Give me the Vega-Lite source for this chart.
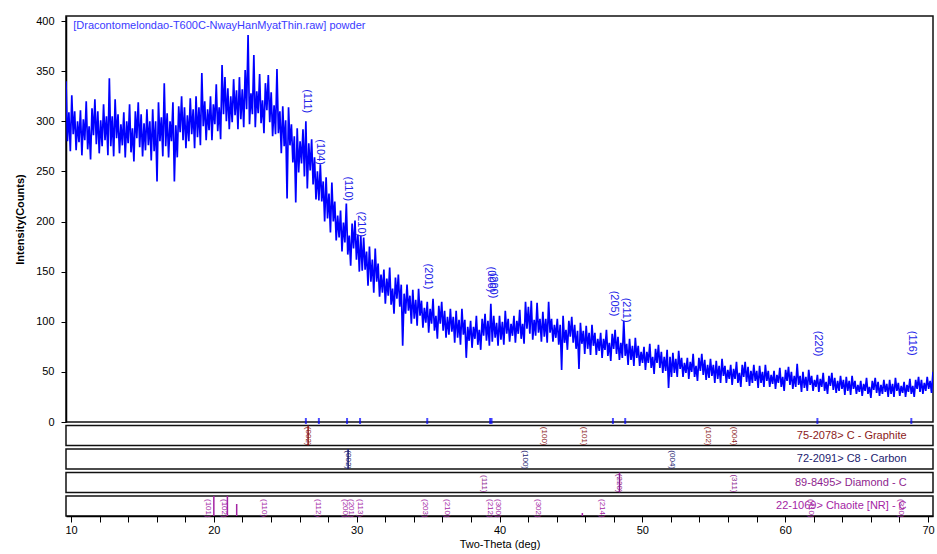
{
"$schema":"https://vega.github.io/schema/vega-lite/v6.json",
"padding":{"left":13,"top":14,"right":5,"bottom":0},
"spacing":3.5,
"bounds":"flush",
"config":{"font":"Liberation Sans","view":{"stroke":"#111","strokeWidth":1.5},
"axis":{"labelFont":"Liberation Sans","titleFont":"Liberation Sans","labelColor":"#000","titleColor":"#000","domainColor":"#000","tickColor":"#000","grid":false}},
"datasets":{
"xrd":[
{"t":10.0,"i":340},{"t":10.1,"i":280},{"t":10.2,"i":309},{"t":10.3,"i":270},{"t":10.4,"i":326},{"t":10.5,"i":287},{"t":10.6,"i":310},{"t":10.7,"i":271},{"t":10.8,"i":300},{"t":10.9,"i":279},
{"t":11.0,"i":311},{"t":11.1,"i":266},{"t":11.2,"i":302},{"t":11.3,"i":281},{"t":11.4,"i":320},{"t":11.5,"i":272},{"t":11.6,"i":295},{"t":11.7,"i":262},{"t":11.8,"i":313},{"t":11.9,"i":286},
{"t":12.0,"i":322},{"t":12.1,"i":277},{"t":12.2,"i":310},{"t":12.3,"i":268},{"t":12.4,"i":301},{"t":12.5,"i":275},{"t":12.6,"i":317},{"t":12.7,"i":281},{"t":12.8,"i":305},{"t":12.9,"i":266},
{"t":13.0,"i":343},{"t":13.1,"i":275},{"t":13.2,"i":305},{"t":13.3,"i":265},{"t":13.4,"i":322},{"t":13.5,"i":283},{"t":13.6,"i":307},{"t":13.7,"i":268},{"t":13.8,"i":297},{"t":13.9,"i":276},
{"t":14.0,"i":309},{"t":14.1,"i":264},{"t":14.2,"i":300},{"t":14.3,"i":278},{"t":14.4,"i":317},{"t":14.5,"i":269},{"t":14.6,"i":293},{"t":14.7,"i":260},{"t":14.8,"i":310},{"t":14.9,"i":283},
{"t":15.0,"i":319},{"t":15.1,"i":274},{"t":15.2,"i":307},{"t":15.3,"i":265},{"t":15.4,"i":298},{"t":15.5,"i":271},{"t":15.6,"i":312},{"t":15.7,"i":276},{"t":15.8,"i":300},{"t":15.9,"i":261},
{"t":16.0,"i":312},{"t":16.1,"i":270},{"t":16.2,"i":300},{"t":16.3,"i":240},{"t":16.4,"i":319},{"t":16.5,"i":280},{"t":16.6,"i":304},{"t":16.7,"i":265},{"t":16.8,"i":338},{"t":16.9,"i":275},
{"t":17.0,"i":308},{"t":17.1,"i":264},{"t":17.2,"i":300},{"t":17.3,"i":280},{"t":17.4,"i":319},{"t":17.5,"i":240},{"t":17.6,"i":296},{"t":17.7,"i":264},{"t":17.8,"i":315},{"t":17.9,"i":289},
{"t":18.0,"i":325},{"t":18.1,"i":281},{"t":18.2,"i":314},{"t":18.3,"i":273},{"t":18.4,"i":306},{"t":18.5,"i":280},{"t":18.6,"i":323},{"t":18.7,"i":287},{"t":18.8,"i":312},{"t":18.9,"i":273},
{"t":19.0,"i":325},{"t":19.1,"i":284},{"t":19.2,"i":314},{"t":19.3,"i":276},{"t":19.4,"i":348},{"t":19.5,"i":295},{"t":19.6,"i":320},{"t":19.7,"i":281},{"t":19.8,"i":312},{"t":19.9,"i":291},
{"t":20.0,"i":325},{"t":20.1,"i":281},{"t":20.2,"i":317},{"t":20.3,"i":297},{"t":20.4,"i":337},{"t":20.5,"i":290},{"t":20.6,"i":314},{"t":20.7,"i":282},{"t":20.8,"i":356},{"t":20.9,"i":307},
{"t":21.0,"i":344},{"t":21.1,"i":300},{"t":21.2,"i":333},{"t":21.3,"i":292},{"t":21.4,"i":325},{"t":21.5,"i":299},{"t":21.6,"i":342},{"t":21.7,"i":306},{"t":21.8,"i":331},{"t":21.9,"i":292},
{"t":22.0,"i":344},{"t":22.1,"i":302},{"t":22.2,"i":332},{"t":22.3,"i":294},{"t":22.4,"i":351},{"t":22.5,"i":312},{"t":22.6,"i":386},{"t":22.7,"i":297},{"t":22.8,"i":328},{"t":22.9,"i":307},
{"t":23.0,"i":366},{"t":23.1,"i":294},{"t":23.2,"i":330},{"t":23.3,"i":308},{"t":23.4,"i":347},{"t":23.5,"i":298},{"t":23.6,"i":321},{"t":23.7,"i":288},{"t":23.8,"i":338},{"t":23.9,"i":311},
{"t":24.0,"i":346},{"t":24.1,"i":299},{"t":24.2,"i":329},{"t":24.3,"i":285},{"t":24.4,"i":316},{"t":24.5,"i":287},{"t":24.6,"i":352},{"t":24.7,"i":288},{"t":24.8,"i":310},{"t":24.9,"i":268},
{"t":25.0,"i":315},{"t":25.1,"i":275},{"t":25.2,"i":301},{"t":25.3,"i":223},{"t":25.4,"i":314},{"t":25.5,"i":276},{"t":25.6,"i":297},{"t":25.7,"i":259},{"t":25.8,"i":285},{"t":25.9,"i":219},
{"t":26.0,"i":293},{"t":26.1,"i":249},{"t":26.2,"i":280},{"t":26.3,"i":258},{"t":26.4,"i":292},{"t":26.5,"i":245},{"t":26.6,"i":300},{"t":26.7,"i":233},{"t":26.8,"i":278},{"t":26.9,"i":251},
{"t":27.0,"i":282},{"t":27.1,"i":237},{"t":27.2,"i":264},{"t":27.3,"i":222},{"t":27.4,"i":250},{"t":27.5,"i":221},{"t":27.6,"i":257},{"t":27.7,"i":220},{"t":27.8,"i":240},{"t":27.9,"i":200},
{"t":28.0,"i":244},{"t":28.1,"i":203},{"t":28.2,"i":228},{"t":28.3,"i":189},{"t":28.4,"i":239},{"t":28.5,"i":200},{"t":28.6,"i":220},{"t":28.7,"i":181},{"t":28.8,"i":206},{"t":28.9,"i":184},
{"t":29.0,"i":211},{"t":29.1,"i":170},{"t":29.2,"i":199},{"t":29.3,"i":179},{"t":29.4,"i":218},{"t":29.5,"i":167},{"t":29.6,"i":186},{"t":29.7,"i":156},{"t":29.8,"i":198},{"t":29.9,"i":173},
{"t":30.0,"i":201},{"t":30.1,"i":162},{"t":30.2,"i":187},{"t":30.3,"i":150},{"t":30.4,"i":186},{"t":30.5,"i":151},{"t":30.6,"i":184},{"t":30.7,"i":152},{"t":30.8,"i":170},{"t":30.9,"i":136},
{"t":31.0,"i":175},{"t":31.1,"i":140},{"t":31.2,"i":162},{"t":31.3,"i":129},{"t":31.4,"i":173},{"t":31.5,"i":140},{"t":31.6,"i":158},{"t":31.7,"i":125},{"t":31.8,"i":147},{"t":31.9,"i":129},
{"t":32.0,"i":152},{"t":32.1,"i":118},{"t":32.2,"i":143},{"t":32.3,"i":126},{"t":32.4,"i":154},{"t":32.5,"i":117},{"t":32.6,"i":133},{"t":32.7,"i":108},{"t":32.8,"i":144},{"t":32.9,"i":123},
{"t":33.0,"i":147},{"t":33.1,"i":115},{"t":33.2,"i":137},{"t":33.3,"i":76},{"t":33.4,"i":128},{"t":33.5,"i":108},{"t":33.6,"i":137},{"t":33.7,"i":111},{"t":33.8,"i":126},{"t":33.9,"i":98},
{"t":34.0,"i":132},{"t":34.1,"i":103},{"t":34.2,"i":122},{"t":34.3,"i":96},{"t":34.4,"i":133},{"t":34.5,"i":106},{"t":34.6,"i":121},{"t":34.7,"i":94},{"t":34.8,"i":114},{"t":34.9,"i":99},
{"t":35.0,"i":120},{"t":35.1,"i":89},{"t":35.2,"i":113},{"t":35.3,"i":98},{"t":35.4,"i":123},{"t":35.5,"i":91},{"t":35.6,"i":106},{"t":35.7,"i":83},{"t":35.8,"i":116},{"t":35.9,"i":98},
{"t":36.0,"i":120},{"t":36.1,"i":91},{"t":36.2,"i":111},{"t":36.3,"i":84},{"t":36.4,"i":105},{"t":36.5,"i":87},{"t":36.6,"i":113},{"t":36.7,"i":90},{"t":36.8,"i":105},{"t":36.9,"i":79},
{"t":37.0,"i":111},{"t":37.1,"i":84},{"t":37.2,"i":102},{"t":37.3,"i":77},{"t":37.4,"i":113},{"t":37.5,"i":87},{"t":37.6,"i":102},{"t":37.7,"i":64},{"t":37.8,"i":95},{"t":37.9,"i":81},
{"t":38.0,"i":101},{"t":38.1,"i":74},{"t":38.2,"i":95},{"t":38.3,"i":83},{"t":38.4,"i":106},{"t":38.5,"i":77},{"t":38.6,"i":92},{"t":38.7,"i":72},{"t":38.8,"i":103},{"t":38.9,"i":86},
{"t":39.0,"i":108},{"t":39.1,"i":81},{"t":39.2,"i":101},{"t":39.3,"i":76},{"t":39.4,"i":118},{"t":39.5,"i":80},{"t":39.6,"i":106},{"t":39.7,"i":84},{"t":39.8,"i":99},{"t":39.9,"i":76},
{"t":40.0,"i":106},{"t":40.1,"i":82},{"t":40.2,"i":100},{"t":40.3,"i":77},{"t":40.4,"i":111},{"t":40.5,"i":88},{"t":40.6,"i":103},{"t":40.7,"i":80},{"t":40.8,"i":98},{"t":40.9,"i":86},
{"t":41.0,"i":106},{"t":41.1,"i":79},{"t":41.2,"i":101},{"t":41.3,"i":88},{"t":41.4,"i":112},{"t":41.5,"i":83},{"t":41.6,"i":98},{"t":41.7,"i":78},{"t":41.8,"i":120},{"t":41.9,"i":93},
{"t":42.0,"i":115},{"t":42.1,"i":88},{"t":42.2,"i":121},{"t":42.3,"i":82},{"t":42.4,"i":102},{"t":42.5,"i":86},{"t":42.6,"i":119},{"t":42.7,"i":89},{"t":42.8,"i":103},{"t":42.9,"i":80},
{"t":43.0,"i":110},{"t":43.1,"i":85},{"t":43.2,"i":103},{"t":43.3,"i":79},{"t":43.4,"i":120},{"t":43.5,"i":89},{"t":43.6,"i":103},{"t":43.7,"i":80},{"t":43.8,"i":97},{"t":43.9,"i":84},
{"t":44.0,"i":103},{"t":44.1,"i":77},{"t":44.2,"i":97},{"t":44.3,"i":52},{"t":44.4,"i":106},{"t":44.5,"i":79},{"t":44.6,"i":92},{"t":44.7,"i":72},{"t":44.8,"i":101},{"t":44.9,"i":85},
{"t":45.0,"i":105},{"t":45.1,"i":79},{"t":45.2,"i":97},{"t":45.3,"i":73},{"t":45.4,"i":91},{"t":45.5,"i":53},{"t":45.6,"i":99},{"t":45.7,"i":78},{"t":45.8,"i":91},{"t":45.9,"i":68},
{"t":46.0,"i":96},{"t":46.1,"i":73},{"t":46.2,"i":89},{"t":46.3,"i":67},{"t":46.4,"i":97},{"t":46.5,"i":76},{"t":46.6,"i":89},{"t":46.7,"i":67},{"t":46.8,"i":83},{"t":46.9,"i":71},
{"t":47.0,"i":89},{"t":47.1,"i":64},{"t":47.2,"i":83},{"t":47.3,"i":72},{"t":47.4,"i":92},{"t":47.5,"i":66},{"t":47.6,"i":79},{"t":47.7,"i":61},{"t":47.8,"i":88},{"t":47.9,"i":73},
{"t":48.0,"i":92},{"t":48.1,"i":68},{"t":48.2,"i":85},{"t":48.3,"i":62},{"t":48.4,"i":79},{"t":48.5,"i":64},{"t":48.6,"i":101},{"t":48.7,"i":66},{"t":48.8,"i":78},{"t":48.9,"i":57},
{"t":49.0,"i":83},{"t":49.1,"i":62},{"t":49.2,"i":76},{"t":49.3,"i":56},{"t":49.4,"i":84},{"t":49.5,"i":64},{"t":49.6,"i":76},{"t":49.7,"i":56},{"t":49.8,"i":70},{"t":49.9,"i":59},
{"t":50.0,"i":75},{"t":50.1,"i":52},{"t":50.2,"i":70},{"t":50.3,"i":59},{"t":50.4,"i":78},{"t":50.5,"i":54},{"t":50.6,"i":65},{"t":50.7,"i":48},{"t":50.8,"i":73},{"t":50.9,"i":59},
{"t":51.0,"i":77},{"t":51.1,"i":54},{"t":51.2,"i":70},{"t":51.3,"i":49},{"t":51.4,"i":65},{"t":51.5,"i":51},{"t":51.6,"i":72},{"t":51.7,"i":34},{"t":51.8,"i":65},{"t":51.9,"i":45},
{"t":52.0,"i":69},{"t":52.1,"i":49},{"t":52.2,"i":63},{"t":52.3,"i":45},{"t":52.4,"i":71},{"t":52.5,"i":53},{"t":52.6,"i":64},{"t":52.7,"i":45},{"t":52.8,"i":59},{"t":52.9,"i":49},
{"t":53.0,"i":64},{"t":53.1,"i":43},{"t":53.2,"i":60},{"t":53.3,"i":50},{"t":53.4,"i":68},{"t":53.5,"i":45},{"t":53.6,"i":56},{"t":53.7,"i":41},{"t":53.8,"i":64},{"t":53.9,"i":51},
{"t":54.0,"i":68},{"t":54.1,"i":47},{"t":54.2,"i":62},{"t":54.3,"i":42},{"t":54.4,"i":57},{"t":54.5,"i":44},{"t":54.6,"i":63},{"t":54.7,"i":46},{"t":54.8,"i":57},{"t":54.9,"i":39},
{"t":55.0,"i":61},{"t":55.1,"i":43},{"t":55.2,"i":56},{"t":55.3,"i":39},{"t":55.4,"i":63},{"t":55.5,"i":46},{"t":55.6,"i":56},{"t":55.7,"i":39},{"t":55.8,"i":52},{"t":55.9,"i":43},
{"t":56.0,"i":57},{"t":56.1,"i":37},{"t":56.2,"i":53},{"t":56.3,"i":43},{"t":56.4,"i":60},{"t":56.5,"i":39},{"t":56.6,"i":49},{"t":56.7,"i":35},{"t":56.8,"i":57},{"t":56.9,"i":45},
{"t":57.0,"i":60},{"t":57.1,"i":40},{"t":57.2,"i":55},{"t":57.3,"i":36},{"t":57.4,"i":51},{"t":57.5,"i":39},{"t":57.6,"i":57},{"t":57.7,"i":41},{"t":57.8,"i":51},{"t":57.9,"i":34},
{"t":58.0,"i":56},{"t":58.1,"i":39},{"t":58.2,"i":50},{"t":58.3,"i":35},{"t":58.4,"i":57},{"t":58.5,"i":41},{"t":58.6,"i":51},{"t":58.7,"i":35},{"t":58.8,"i":47},{"t":58.9,"i":38},
{"t":59.0,"i":51},{"t":59.1,"i":33},{"t":59.2,"i":47},{"t":59.3,"i":39},{"t":59.4,"i":54},{"t":59.5,"i":35},{"t":59.6,"i":45},{"t":59.7,"i":31},{"t":59.8,"i":52},{"t":59.9,"i":41},
{"t":60.0,"i":55},{"t":60.1,"i":37},{"t":60.2,"i":50},{"t":60.3,"i":33},{"t":60.4,"i":46},{"t":60.5,"i":35},{"t":60.6,"i":58},{"t":60.7,"i":37},{"t":60.8,"i":46},{"t":60.9,"i":30},
{"t":61.0,"i":50},{"t":61.1,"i":34},{"t":61.2,"i":45},{"t":61.3,"i":31},{"t":61.4,"i":52},{"t":61.5,"i":37},{"t":61.6,"i":46},{"t":61.7,"i":31},{"t":61.8,"i":42},{"t":61.9,"i":35},
{"t":62.0,"i":47},{"t":62.1,"i":30},{"t":62.2,"i":43},{"t":62.3,"i":35},{"t":62.4,"i":49},{"t":62.5,"i":31},{"t":62.6,"i":40},{"t":62.7,"i":28},{"t":62.8,"i":46},{"t":62.9,"i":36},
{"t":63.0,"i":49},{"t":63.1,"i":32},{"t":63.2,"i":44},{"t":63.3,"i":29},{"t":63.4,"i":41},{"t":63.5,"i":31},{"t":63.6,"i":46},{"t":63.7,"i":33},{"t":63.8,"i":42},{"t":63.9,"i":27},
{"t":64.0,"i":45},{"t":64.1,"i":31},{"t":64.2,"i":41},{"t":64.3,"i":27},{"t":64.4,"i":46},{"t":64.5,"i":33},{"t":64.6,"i":41},{"t":64.7,"i":28},{"t":64.8,"i":37},{"t":64.9,"i":30},
{"t":65.0,"i":41},{"t":65.1,"i":26},{"t":65.2,"i":38},{"t":65.3,"i":31},{"t":65.4,"i":44},{"t":65.5,"i":28},{"t":65.6,"i":35},{"t":65.7,"i":24},{"t":65.8,"i":41},{"t":65.9,"i":32},
{"t":66.0,"i":44},{"t":66.1,"i":29},{"t":66.2,"i":40},{"t":66.3,"i":26},{"t":66.4,"i":37},{"t":66.5,"i":28},{"t":66.6,"i":42},{"t":66.7,"i":30},{"t":66.8,"i":38},{"t":66.9,"i":25},
{"t":67.0,"i":42},{"t":67.1,"i":28},{"t":67.2,"i":38},{"t":67.3,"i":25},{"t":67.4,"i":44},{"t":67.5,"i":31},{"t":67.6,"i":39},{"t":67.7,"i":26},{"t":67.8,"i":36},{"t":67.9,"i":29},
{"t":68.0,"i":40},{"t":68.1,"i":25},{"t":68.2,"i":37},{"t":68.3,"i":30},{"t":68.4,"i":43},{"t":68.5,"i":28},{"t":68.6,"i":36},{"t":68.7,"i":25},{"t":68.8,"i":42},{"t":68.9,"i":33},
{"t":69.0,"i":45},{"t":69.1,"i":30},{"t":69.2,"i":42},{"t":69.3,"i":28},{"t":69.4,"i":39},{"t":69.5,"i":31},{"t":69.6,"i":45},{"t":69.7,"i":33},{"t":69.8,"i":41},{"t":69.9,"i":29},
{"t":70.0,"i":50}
],
"peaks":[{"t":26.6,"top":332,"hkl":"(111)"},{"t":27.5,"top":282,"hkl":"(104)"},{"t":29.45,"top":245,"hkl":"(110)"},{"t":30.35,"top":210,"hkl":"(210)"},{"t":35.0,"top":158,"hkl":"(201)"},{"t":39.35,"top":155,"hkl":"(006)"},{"t":39.45,"top":149,"hkl":"(200)"},{"t":47.85,"top":131,"hkl":"(205)"},{"t":48.7,"top":124,"hkl":"(211)"},{"t":62.0,"top":91,"hkl":"(220)"},{"t":68.5,"top":91,"hkl":"(116)"}],
"graphite":[{"t":26.6,"h":100,"hkl":"(002)"},{"t":43.1,"h":0,"hkl":"(100)"},{"t":45.9,"h":0,"hkl":"(101)"},{"t":54.6,"h":0,"hkl":"(102)"},{"t":56.4,"h":0,"hkl":"(004)"}],
"carbon":[{"t":29.4,"h":100,"hkl":"(002)"},{"t":41.8,"h":0,"hkl":"(100)"},{"t":52.1,"h":0,"hkl":"(004)"}],
"diamond":[{"t":38.9,"h":0,"hkl":"(111)"},{"t":48.4,"h":100,"hkl":"(220)"},{"t":56.4,"h":0,"hkl":"(311)"}],
"chaoite":[{"t":19.6,"h":0,"hkl":"(101)"},{"t":20.0,"h":100,"hkl":""},{"t":20.7,"h":0,"hkl":"(102)"},{"t":20.95,"h":100,"hkl":""},{"t":21.6,"h":60,"hkl":""},{"t":23.5,"h":0,"hkl":"(110)"},{"t":27.3,"h":0,"hkl":"(112)"},{"t":29.2,"h":0,"hkl":"(200)"},{"t":29.6,"h":0,"hkl":"(201)"},{"t":30.2,"h":0,"hkl":"(113)"},{"t":34.8,"h":0,"hkl":"(203)"},{"t":36.3,"h":0,"hkl":"(210)"},{"t":39.3,"h":0,"hkl":"(212)"},{"t":39.9,"h":0,"hkl":"(300)"},{"t":42.7,"h":0,"hkl":"(302)"},{"t":45.8,"h":15,"hkl":""},{"t":47.2,"h":0,"hkl":"(214)"},{"t":61.8,"h":0,"hkl":"(410)"},{"t":68.1,"h":0,"hkl":"(330)"}]
},
"vconcat":[
{"width":867,"height":406,
"layer":[
{"data":{"name":"xrd"},"mark":{"type":"line","color":"#0000ff","strokeWidth":1.7,"clip":true},
"encoding":{"x":{"field":"t","type":"quantitative","scale":{"domain":[10,70],"nice":false,"zero":false},"axis":null},
"y":{"field":"i","type":"quantitative","scale":{"domain":[0,405],"nice":false,"zero":false},
"axis":{"values":[0,50,100,150,200,250,300,350,400],"title":"Intensity(Counts)","tickSize":5,"labelPadding":7,"labelFontSize":11,"titleFontSize":11,"titleFontWeight":"bold","titlePadding":10,"domainWidth":1.5}}}},
{"data":{"name":"peaks"},"mark":{"type":"tick","orient":"vertical","color":"#0000ff","thickness":2,"size":6},
"encoding":{"x":{"field":"t","type":"quantitative"},"y":{"datum":1,"type":"quantitative"}}},
{"data":{"name":"peaks"},"mark":{"type":"text","angle":90,"align":"left","baseline":"middle","fontSize":11,"color":"#2424e8","dy":-1},
"encoding":{"x":{"field":"t","type":"quantitative"},"y":{"field":"top","type":"quantitative"},"text":{"field":"hkl","type":"nominal"}}},
{"data":{"values":[{"label":"[Dracontomelondao-T600C-NwayHanMyatThin.raw] powder","lx":10.5,"ly":395}]},"mark":{"type":"text","align":"left","baseline":"middle","fontSize":11,"color":"#3a3aff"},
"encoding":{"x":{"field":"lx","type":"quantitative"},"y":{"field":"ly","type":"quantitative"},"text":{"field":"label","type":"nominal"}}}
]},
{"width":867,"height":20,"data":{"name":"graphite"},
"encoding":{"x":{"field":"t","type":"quantitative","scale":{"domain":[10,70],"nice":false,"zero":false},"axis":null}},
"layer":[
{"transform":[{"filter":"datum.h > 0"}],"mark":{"type":"bar","color":"#8b1a1a","size":1.5},
"encoding":{"y":{"field":"h","type":"quantitative","scale":{"domain":[0,100],"nice":false},"axis":null}}},
{"mark":{"type":"text","angle":90,"align":"right","baseline":"middle","fontSize":8,"color":"#8b1a1a"},
"encoding":{"y":{"datum":0,"type":"quantitative"},"text":{"field":"hkl","type":"nominal"}}},
{"data":{"values":[{"name":"75-2078> C - Graphite","t":68.5}]},"mark":{"type":"text","align":"right","baseline":"middle","fontSize":11,"color":"#8b1a1a"},
"encoding":{"y":{"datum":50,"type":"quantitative"},"text":{"field":"name","type":"nominal"}}}
]},
{"width":867,"height":20,"data":{"name":"carbon"},
"encoding":{"x":{"field":"t","type":"quantitative","scale":{"domain":[10,70],"nice":false,"zero":false},"axis":null}},
"layer":[
{"transform":[{"filter":"datum.h > 0"}],"mark":{"type":"bar","color":"#1a1a6e","size":1.5},
"encoding":{"y":{"field":"h","type":"quantitative","scale":{"domain":[0,100],"nice":false},"axis":null}}},
{"mark":{"type":"text","angle":90,"align":"right","baseline":"middle","fontSize":8,"color":"#1a1a6e"},
"encoding":{"y":{"datum":0,"type":"quantitative"},"text":{"field":"hkl","type":"nominal"}}},
{"data":{"values":[{"name":"72-2091> C8 - Carbon","t":68.5}]},"mark":{"type":"text","align":"right","baseline":"middle","fontSize":11,"color":"#1a1a6e"},
"encoding":{"y":{"datum":50,"type":"quantitative"},"text":{"field":"name","type":"nominal"}}}
]},
{"width":867,"height":20,"data":{"name":"diamond"},
"encoding":{"x":{"field":"t","type":"quantitative","scale":{"domain":[10,70],"nice":false,"zero":false},"axis":null}},
"layer":[
{"transform":[{"filter":"datum.h > 0"}],"mark":{"type":"bar","color":"#8e1e8e","size":1.5},
"encoding":{"y":{"field":"h","type":"quantitative","scale":{"domain":[0,100],"nice":false},"axis":null}}},
{"mark":{"type":"text","angle":90,"align":"right","baseline":"middle","fontSize":8,"color":"#8e1e8e"},
"encoding":{"y":{"datum":0,"type":"quantitative"},"text":{"field":"hkl","type":"nominal"}}},
{"data":{"values":[{"name":"89-8495> Diamond - C","t":68.5}]},"mark":{"type":"text","align":"right","baseline":"middle","fontSize":11,"color":"#8e1e8e"},
"encoding":{"y":{"datum":50,"type":"quantitative"},"text":{"field":"name","type":"nominal"}}}
]},
{"width":867,"height":20,"data":{"name":"chaoite"},
"encoding":{"x":{"field":"t","type":"quantitative","scale":{"domain":[10,70],"nice":false,"zero":false},
"axis":{"values":[10,12,14,16,18,20,22,24,26,28,30,32,34,36,38,40,42,44,46,48,50,52,54,56,58,60,62,64,66,68,70],"labelExpr":"datum.value % 10 === 0 ? datum.label : ''","labelOverlap":false,"labelFlush":false,"tickSize":6,"labelPadding":2,"labelFontSize":11,"title":"Two-Theta (deg)","titleFontSize":11,"titleFontWeight":"normal","titlePadding":3,"domainWidth":1.5}}},
"layer":[
{"transform":[{"filter":"datum.h > 0"}],"mark":{"type":"bar","color":"#a424a4","size":1.5},
"encoding":{"y":{"field":"h","type":"quantitative","scale":{"domain":[0,100],"nice":false},"axis":null}}},
{"mark":{"type":"text","angle":90,"align":"left","baseline":"middle","fontSize":8,"color":"#a424a4"},
"encoding":{"y":{"datum":85,"type":"quantitative"},"text":{"field":"hkl","type":"nominal"}}},
{"data":{"values":[{"name":"22-1069> Chaoite [NR] - C","t":68.5}]},"mark":{"type":"text","align":"right","baseline":"middle","fontSize":11,"color":"#a424a4"},
"encoding":{"y":{"datum":50,"type":"quantitative"},"text":{"field":"name","type":"nominal"}}}
]}
]
}
